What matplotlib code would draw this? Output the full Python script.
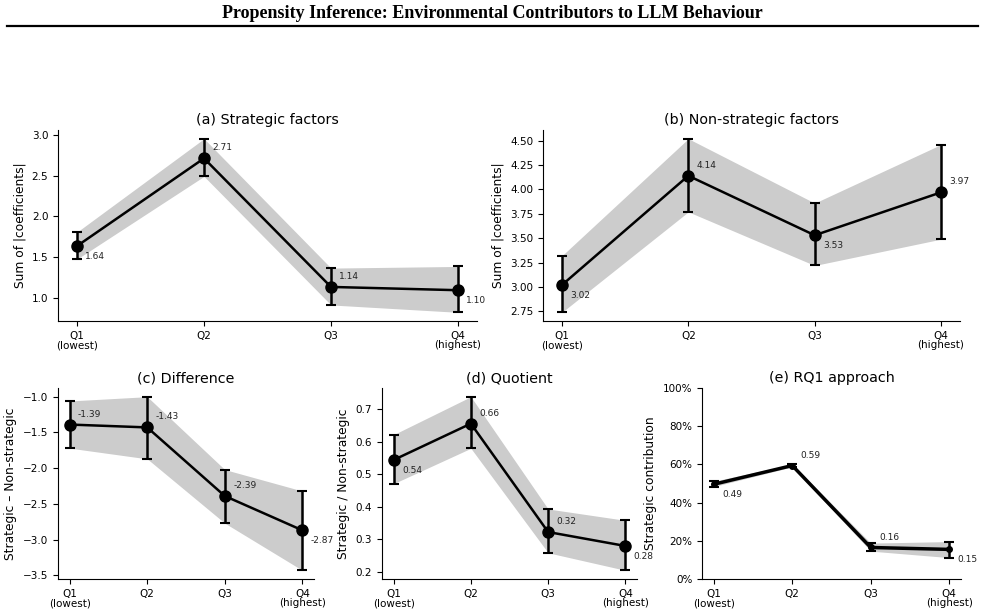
import matplotlib
matplotlib.use("Agg")
import matplotlib.pyplot as plt
from matplotlib.lines import Line2D
from matplotlib.ticker import PercentFormatter
import numpy as np

quartiles = ["Q1\n(lowest)", "Q2", "Q3", "Q4\n(highest)"]

strat_val = [1.64, 2.71, 1.14, 1.10]
strat_lo = [1.48, 2.49, 0.92, 0.83]
strat_hi = [1.81, 2.95, 1.37, 1.39]
strat_lbl = ["1.64", "2.71", "1.14", "1.10"]
strat_dir = [-1, 1, 1, -1]

nonstrat_val = [3.02, 4.14, 3.53, 3.97]
nonstrat_lo = [2.74, 3.77, 3.22, 3.49]
nonstrat_hi = [3.32, 4.52, 3.86, 4.46]
nonstrat_lbl = ["3.02", "4.14", "3.53", "3.97"]
nonstrat_dir = [-1, 1, -1, 1]

diff_val = [-1.39, -1.43, -2.39, -2.87]
diff_lo = [-1.72, -1.87, -2.77, -3.43]
diff_hi = [-1.06, -1.00, -2.02, -2.32]
diff_lbl = ["-1.39", "-1.43", "-2.39", "-2.87"]
diff_dir = [1, 1, 1, -1]

quot_val = [0.544, 0.656, 0.322, 0.279]
quot_lo = [0.471, 0.580, 0.258, 0.204]
quot_hi = [0.622, 0.739, 0.393, 0.358]
quot_lbl = ["0.54", "0.66", "0.32", "0.28"]
quot_dir = [-1, 1, 1, -1]

rq1_val = [0.496, 0.594, 0.165, 0.155]
rq1_lo = [0.484, 0.587, 0.146, 0.112]
rq1_hi = [0.512, 0.601, 0.188, 0.196]
rq1_lbl = ["0.49", "0.59", "0.16", "0.15"]
rq1_dir = [-1, 1, 1, -1]

fig = plt.figure(figsize=(9.85, 6.13), dpi=100)
W, H = 985.0, 613.0


def ax_at(x0, y0, x1, y1):
    return fig.add_axes([x0 / W, 1 - y1 / H, (x1 - x0) / W, (y1 - y0) / H])


def panel(ax, title, ylabel, val, lo, hi, lbl, dirs, ms=8, lw=1.8):
    x = np.arange(len(val))
    val = np.asarray(val)
    lo = np.asarray(lo)
    hi = np.asarray(hi)
    ax.fill_between(x, lo, hi, color="#cccccc", lw=0, zorder=1)
    ax.errorbar(x, val, yerr=[val - lo, hi - val], fmt="o-", color="black",
                ms=ms, lw=lw, elinewidth=1.8, capsize=3.8, capthick=1.5, zorder=3)
    for xi, v, t, d in zip(x, val, lbl, dirs):
        ax.annotate(t, (xi, v), xytext=(6, 7.5 * d), textcoords="offset points",
                    ha="left", va="center", fontsize=6.5, color="#222222")
    ax.set_xticks(x)
    ax.set_xticklabels(quartiles, fontsize=7.5, linespacing=0.95)
    ax.tick_params(axis="y", labelsize=7.5)
    ax.set_title(title, fontsize=10.3, pad=4)
    ax.set_ylabel(ylabel, fontsize=8.8)
    for s in ["top", "right"]:
        ax.spines[s].set_visible(False)


ax_a = ax_at(58, 130, 477, 321)
panel(ax_a, "(a) Strategic factors", "Sum of |coefficients|",
      strat_val, strat_lo, strat_hi, strat_lbl, strat_dir)
ax_a.set_yticks([1.0, 1.5, 2.0, 2.5, 3.0])

ax_b = ax_at(543, 130, 960, 321)
panel(ax_b, "(b) Non-strategic factors", "Sum of |coefficients|",
      nonstrat_val, nonstrat_lo, nonstrat_hi, nonstrat_lbl, nonstrat_dir)
ax_b.set_yticks([2.75, 3.0, 3.25, 3.5, 3.75, 4.0, 4.25, 4.5])

ax_c = ax_at(58, 388, 314, 579)
panel(ax_c, "(c) Difference", "Strategic \u2013 Non-strategic",
      diff_val, diff_lo, diff_hi, diff_lbl, diff_dir)

ax_d = ax_at(382, 388, 637, 579)
panel(ax_d, "(d) Quotient", "Strategic / Non-strategic",
      quot_val, quot_lo, quot_hi, quot_lbl, quot_dir)

ax_e = ax_at(702, 388, 961, 579)
panel(ax_e, "(e) RQ1 approach", "Strategic contribution",
      rq1_val, rq1_lo, rq1_hi, rq1_lbl, rq1_dir, ms=4, lw=2.5)
ax_e.set_ylim(0, 1)
ax_e.yaxis.set_major_formatter(PercentFormatter(1.0, decimals=0))

fig.text(0.5, 1 - 13 / H, "Propensity Inference: Environmental Contributors to LLM Behaviour",
         ha="center", va="center", fontsize=13, fontweight="bold",
         family=["Liberation Serif", "DejaVu Serif"])
fig.add_artist(Line2D([7 / W, 978 / W], [1 - 26 / H, 1 - 26 / H], color="black", lw=1.6,
                      transform=fig.transFigure))

fig.savefig("out.png", dpi=100)
